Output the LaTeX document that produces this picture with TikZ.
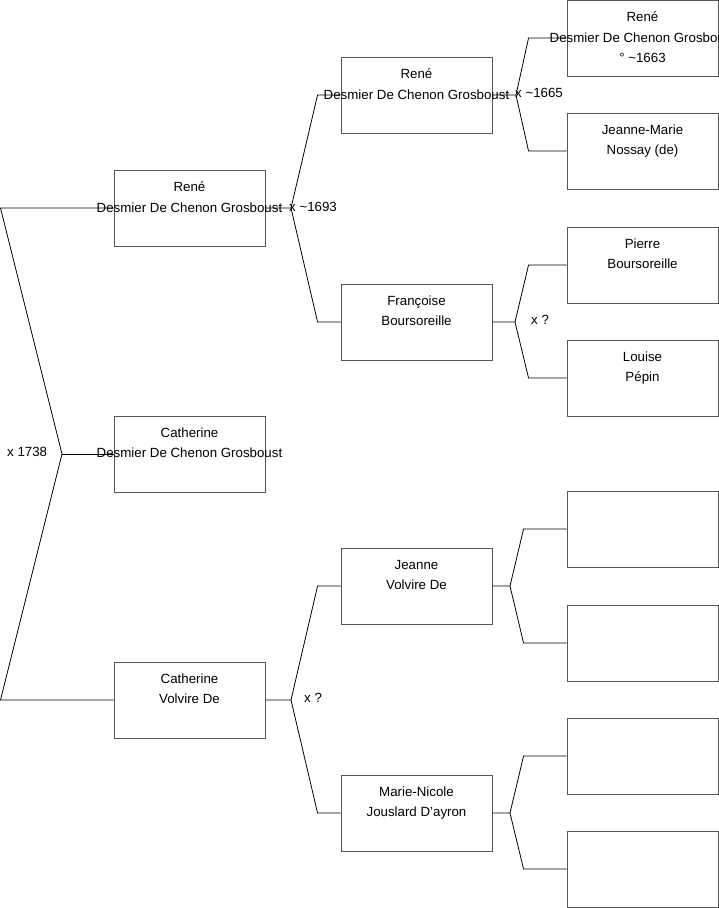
\documentclass[tikz,border=0pt]{standalone}
\usepackage{fontspec}
\setmainfont{Liberation Sans}
\usetikzlibrary{positioning}
\definecolor{boxgray}{RGB}{85,85,85}

\begin{document}
\begin{tikzpicture}[x=1pt,y=-1pt,
    person/.style={draw=boxgray, line width=0.9pt, minimum width=151pt, minimum height=76pt, inner sep=0pt},
    names/.style={anchor=north, inner sep=0pt, align=center, font=\fontsize{13.3}{20.3}\selectfont},
    marr/.style={anchor=west, inner sep=0pt, font=\fontsize{13.3}{15}\selectfont},
    link/.style={draw=black, line width=0.8pt}]
    \useasboundingbox (0,0) rectangle (719,908);

    % generation 1
    \node[person] (rene) at (189.5,208) {};
    \node[names] (rene-t) at ([yshift=-12.2pt]rene.north) {René\\Desmier De Chenon Grosboust};
    \node[person] (cath) at (189.5,454) {};
    \node[names] (cath-t) at ([yshift=-12.2pt]cath.north) {Catherine\\Desmier De Chenon Grosboust};
    \node[person] (cathv) at (189.5,700) {};
    \node[names] (cathv-t) at ([yshift=-12.2pt]cathv.north) {Catherine\\Volvire De};

    % generation 2
    \node[person] (rene2) at (416.5,95) {};
    \node[names] (rene2-t) at ([yshift=-12.2pt]rene2.north) {René\\Desmier De Chenon Grosboust};
    \node[person] (franc) at (416.5,322) {};
    \node[names] (franc-t) at ([yshift=-12.2pt]franc.north) {Françoise\\Boursoreille};
    \node[person] (jeanne) at (416.5,586) {};
    \node[names] (jeanne-t) at ([yshift=-12.2pt]jeanne.north) {Jeanne\\Volvire De};
    \node[person] (marien) at (416.5,813) {};
    \node[names] (marien-t) at ([yshift=-12.2pt]marien.north) {Marie-Nicole\\Jouslard D'ayron};

    % generation 3
    \node[person] (rene3) at (642.5,38) {};
    \node[names] (rene3-t) at ([yshift=-12.2pt]rene3.north) {René\\Desmier De Chenon Grosboust\\° \textasciitilde1663};
    \node[person] (jmarie) at (642.5,151) {};
    \node[names] (jmarie-t) at ([yshift=-12.2pt]jmarie.north) {Jeanne-Marie\\Nossay (de)};
    \node[person] (pierre) at (642.5,265) {};
    \node[names] (pierre-t) at ([yshift=-12.2pt]pierre.north) {Pierre\\Boursoreille};
    \node[person] (louise) at (642.5,378) {};
    \node[names] (louise-t) at ([yshift=-12.2pt]louise.north) {Louise\\Pépin};
    \node[person] (e1) at (642.5,529) {};
    \node[person] (e2) at (642.5,643) {};
    \node[person] (e3) at (642.5,756) {};
    \node[person] (e4) at (642.5,869) {};

    % forks
    \coordinate (ltop) at (0.5,208);
    \coordinate (lmid) at (62,454);
    \coordinate (lbot) at (0.5,700);
    \coordinate (m1) at (291,208);
    \coordinate (m2) at (291,700);
    \coordinate (m3) at (516,95);
    \coordinate (m4) at (515,322);
    \coordinate (m5) at (510,586);
    \coordinate (m6) at (510,813);

    \draw[link] (rene.west) -- (ltop) -- (lmid) -- (lbot) -- (cathv.west);
    \draw[link] (lmid) -- (cath.west);
    \draw[link] (rene.east) -- (m1) -- ([xshift=-23pt]rene2.west) -- (rene2.west);
    \draw[link] (m1) -- ([xshift=-23pt]franc.west) -- (franc.west);
    \draw[link] (cathv.east) -- (m2) -- ([xshift=-23pt]jeanne.west) -- (jeanne.west);
    \draw[link] (m2) -- ([xshift=-23pt]marien.west) -- (marien.west);
    \draw[link] (rene2.east) -- (m3) -- ([xshift=-38pt]rene3.west) -- (rene3.west);
    \draw[link] (m3) -- ([xshift=-38pt]jmarie.west) -- (jmarie.west);
    \draw[link] (franc.east) -- (m4) -- ([xshift=-38pt]pierre.west) -- (pierre.west);
    \draw[link] (m4) -- ([xshift=-38pt]louise.west) -- (louise.west);
    \draw[link] (jeanne.east) -- (m5) -- ([xshift=-43pt]e1.west) -- (e1.west);
    \draw[link] (m5) -- ([xshift=-43pt]e2.west) -- (e2.west);
    \draw[link] (marien.east) -- (m6) -- ([xshift=-43pt]e3.west) -- (e3.west);
    \draw[link] (m6) -- ([xshift=-43pt]e4.west) -- (e4.west);

    % marriages
    \node[marr] (x1) at (7,452) {x 1738};
    \node[marr] (x2) at (289,207) {x \textasciitilde1693};
    \node[marr] (x3) at (515,93) {x \textasciitilde1665};
    \node[marr] (x4) at (531,320) {x ?};
    \node[marr] (x5) at (304,698) {x ?};
  \end{tikzpicture}
\end{document}
